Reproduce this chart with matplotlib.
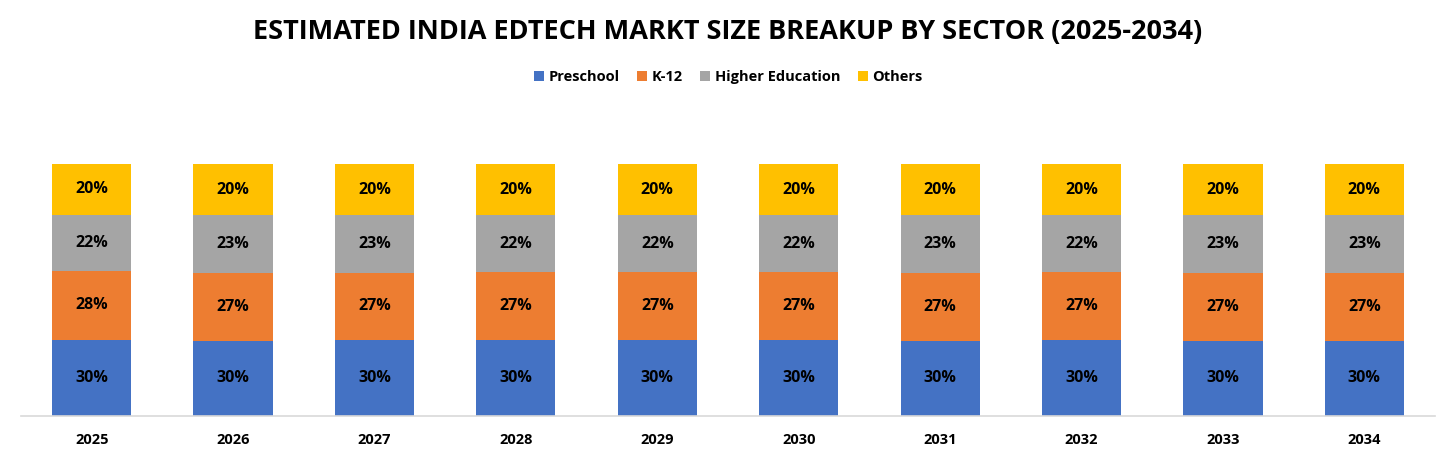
import numpy as np
import matplotlib.pyplot as plt
from matplotlib.ticker import NullLocator
plt.switch_backend('Agg')

plt.rcParams['font.family'] = ['Open Sans', 'DejaVu Sans']

years = ['2025', '2026', '2027', '2028', '2029', '2030', '2031', '2032', '2033', '2034']
sectors = ['Preschool', 'K-12', 'Higher Education', 'Others']
preschool = [30.1, 29.8, 30.1, 30.1, 30.0, 30.0, 29.8, 30.0, 29.8, 29.8]
k12 = [27.6, 27.1, 26.8, 27.1, 27.2, 27.2, 27.1, 27.2, 27.1, 27.1]
higher = [22.1, 22.7, 22.7, 22.4, 22.4, 22.4, 22.7, 22.4, 22.7, 22.7]
others = [20.2, 20.4, 20.4, 20.4, 20.4, 20.4, 20.4, 20.4, 20.4, 20.4]
colors = ['#4472C4', '#ED7D31', '#A5A5A5', '#FFC000']

fig = plt.figure(figsize=(14.56, 4.57), dpi=100)
ax = fig.add_axes([0.0144, 0.0897, 0.9712, 0.6617])

x = np.arange(len(years))
bottom = np.zeros(len(years))
for name, vals, col in zip(sectors, [preschool, k12, higher, others], colors):
    vals = np.array(vals)
    bars = ax.bar(x, vals, width=0.56, bottom=bottom, color=col, label=name)
    for xi, b, v in zip(x, bottom, vals):
        ax.text(xi, b + v / 2, '%d%%' % round(v), ha='center', va='center',
                fontsize=11.5, fontweight='bold', color='black')
    bottom += vals

ax.set_xlim(-0.5, len(years) - 0.5)
ax.set_ylim(0, 120)
ax.set_xticks(x)
ax.set_xticklabels(years, fontsize=10.5, fontweight='bold')
ax.tick_params(axis='x', length=0, pad=12)
ax.yaxis.set_major_locator(NullLocator())
for s in ['top', 'right', 'left']:
    ax.spines[s].set_visible(False)
ax.spines['bottom'].set_color('#D9D9D9')
ax.spines['bottom'].set_linewidth(1.2)

fig.text(0.5, 0.93, 'ESTIMATED INDIA EDTECH MARKT SIZE BREAKUP BY SECTOR (2025-2034)',
         ha='center', va='center', fontsize=19.5, fontweight='bold', color='black')
fig.legend(loc='center', bbox_to_anchor=(0.5, 0.832), ncol=4, frameon=False,
           prop={'size': 10.5, 'weight': 'bold'}, handlelength=0.7, handleheight=0.7,
           handletextpad=0.3, columnspacing=1.2)

plt.savefig('out.png', dpi=100)
plt.close('all')
